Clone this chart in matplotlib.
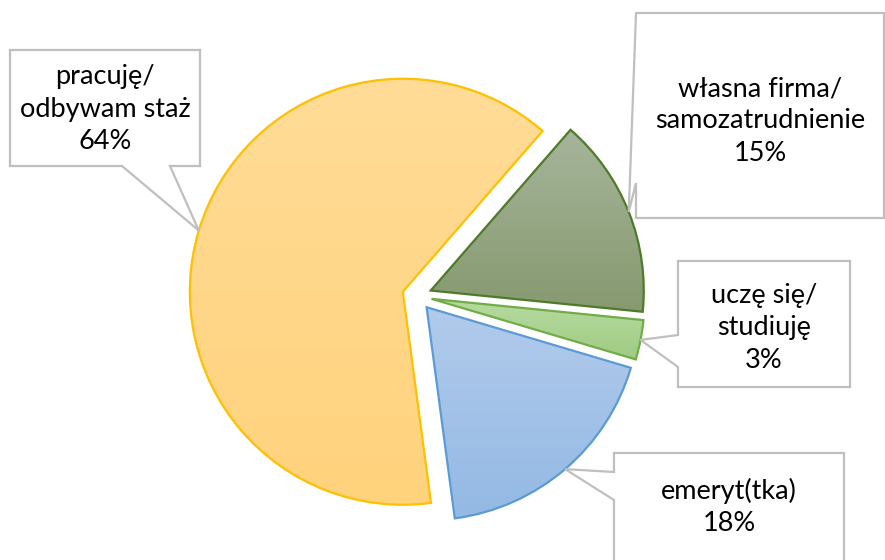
import matplotlib
matplotlib.use("Agg")
import matplotlib.pyplot as plt
import numpy as np
from matplotlib.patches import Polygon

W, H = 885, 560

# data (clockwise from the top-right slice, as in the chart)
labels = ["własna firma/\nsamozatrudnienie", "uczę się/\nstudiuję", "emeryt(tka)", "pracuję/\nodbywam staż"]
shares = [15.2, 3.0, 18.3, 63.5]  # slice sizes
pct_text = ["15%", "3%", "18%", "64%"]

# styling per slice: gradient top colour, gradient bottom colour, edge colour
grad_top = ["#a6b59b", "#b7dba0", "#b2cbeb", "#ffdc97"]
grad_bot = ["#86996f", "#9fcb83", "#93b9e4", "#ffd27c"]
edge_col = ["#4e7a2a", "#70ad47", "#5b9bd5", "#ffc000"]

# label callouts in image pixels: box (x0, y0, x1, y1), pointer base points, text centre y
boxes = [(636, 13, 884, 218), (678, 261, 850, 387), (614, 453, 844, 580), (10, 50, 200, 166)]
bases = [((636, 13), (636, 183)), ((678, 335), (678, 367)), ((614, 472), (614, 500)),
         ((122, 166), (170, 166))]
text_y = [121, 328, 507, 109]

CENTER = (417, H - 296)
RADIUS = 213
EXPLODE = 14.8  # matplotlib explode offset is in data units

fig = plt.figure(figsize=(W / 100, H / 100), dpi=100)
ax = fig.add_axes([0, 0, 1, 1])

wedges, _ = ax.pie(shares, center=CENTER, radius=RADIUS, startangle=49, counterclock=False,
                   explode=[EXPLODE] * len(shares), frame=True,
                   wedgeprops=dict(linewidth=1.6))
ax.set_xlim(0, W)
ax.set_ylim(0, H)
ax.set_aspect("equal")
ax.axis("off")

for i, w in enumerate(wedges):
    w.set_facecolor("none")
    w.set_edgecolor(edge_col[i])
    w.set_zorder(3)
    # vertical gradient clipped to the wedge
    bb = w.get_path().get_extents(w.get_patch_transform())
    c0 = np.array(matplotlib.colors.to_rgb(grad_top[i]))
    c1 = np.array(matplotlib.colors.to_rgb(grad_bot[i]))
    t = np.linspace(0, 1, 200)[:, None]
    img = (c0 * (1 - t) + c1 * t)[:, None, :]
    im = ax.imshow(img, extent=(bb.x0, bb.x1, bb.y0, bb.y1), origin="upper",
                   aspect="auto", zorder=2, interpolation="bilinear")
    im.set_clip_path(w)

    # callout pointing at the middle of the outer arc
    mid = np.deg2rad((w.theta1 + w.theta2) / 2)
    tip = (w.center[0] + w.r * np.cos(mid), w.center[1] + w.r * np.sin(mid))
    x0, y0, x1, y1 = boxes[i]
    (bx0, by0), (bx1, by1) = bases[i]
    if by0 == by1 == y1:  # pointer on the bottom edge
        pts = [(x0, y0), (x1, y0), (x1, y1), (bx1, by1), None, (bx0, by0), (x0, y1)]
    else:  # pointer on the left edge
        pts = [(x0, y0), (x1, y0), (x1, y1), (x0, y1), (bx1, by1), None, (bx0, by0)]
    verts = [tip if p is None else (p[0], H - p[1]) for p in pts]
    ax.add_patch(Polygon(verts, closed=True, facecolor="white", edgecolor="#bfbfbf",
                         linewidth=1.6, zorder=4, clip_on=False))
    ax.text((x0 + x1) / 2, H - text_y[i], labels[i] + "\n" + pct_text[i],
            ha="center", va="center", multialignment="center", fontsize=19.5,
            family=["Lato", "DejaVu Sans"], color="#000000", linespacing=1.37, zorder=5)

fig.savefig("out.png", dpi=100)
